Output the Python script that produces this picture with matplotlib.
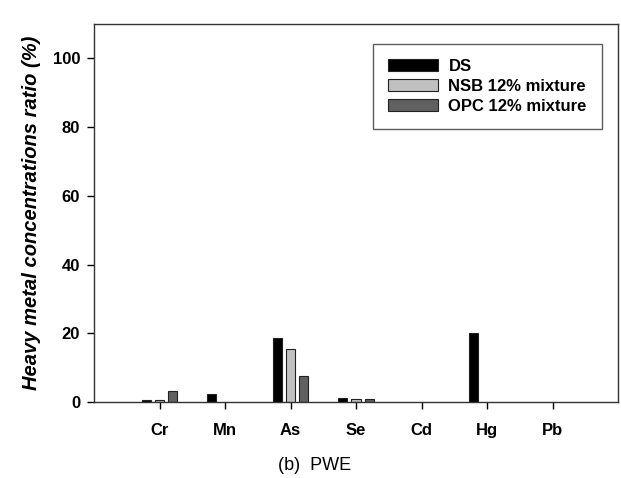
import numpy as np
import matplotlib
matplotlib.use("Agg")
import matplotlib.pyplot as plt

plt.rcParams['font.family'] = ['Liberation Sans', 'DejaVu Sans']

metals = ["Cr", "Mn", "As", "Se", "Cd", "Hg", "Pb"]
ds = [0.5, 2.2, 18.7, 1.2, 0.0, 20.1, 0.0]
nsb = [0.7, 0.0, 15.3, 0.8, 0.0, 0.0, 0.0]
opc = [3.1, 0.0, 7.6, 1.0, 0.0, 0.0, 0.0]

series = [
    ("DS", ds, "#000000"),
    ("NSB 12% mixture", nsb, "#c0c0c0"),
    ("OPC 12% mixture", opc, "#606060"),
]

fig = plt.figure(figsize=(6.21, 4.78), dpi=100)
ax = fig.add_axes([94 / 621, 1 - 402 / 478, 524 / 621, 378 / 478])

x = np.arange(len(metals))
width = 0.14
offsets = [-0.2, 0.0, 0.2]
for (label, vals, color), off in zip(series, offsets):
    # zero values leave no visible mark in the reference
    lws = [0.8 if v > 0 else 0 for v in vals]
    ax.bar(x + off, vals, width, color=color, edgecolor="#222222",
           linewidth=lws, label=label)

ax.set_xlim(-1, 7)
ax.set_ylim(0, 110)
ax.set_yticks([0, 20, 40, 60, 80, 100])
ax.set_xticks(x)
ax.set_xticklabels(metals)
for lab in ax.get_xticklabels() + ax.get_yticklabels():
    lab.set_fontweight("bold")
    lab.set_fontsize(12)
ax.tick_params(direction="out", length=5, width=1, pad=10, axis="x")
ax.tick_params(direction="out", length=5, width=1, pad=5, axis="y")
for sp in ax.spines.values():
    sp.set_linewidth(1)
    sp.set_color("#333333")

ax.set_ylabel("Heavy metal concentrations ratio (%)", fontsize=14.5,
              fontweight="bold", style="italic", labelpad=8)

leg = ax.legend(loc="upper right", bbox_to_anchor=(0.985, 0.97),
                frameon=True, fancybox=False, edgecolor="#333333",
                prop={"weight": "bold", "size": 12},
                handlelength=3.0, handleheight=0.75, borderpad=0.9,
                labelspacing=0.3, handletextpad=0.6)
leg.get_frame().set_linewidth(1)
for h in leg.legend_handles:
    h.set_linewidth(0.8)

fig.text(315 / 621, 1 - 465 / 478, "(b)  PWE", ha="center", va="center",
         fontsize=13)

fig.savefig("out.png", dpi=100)
